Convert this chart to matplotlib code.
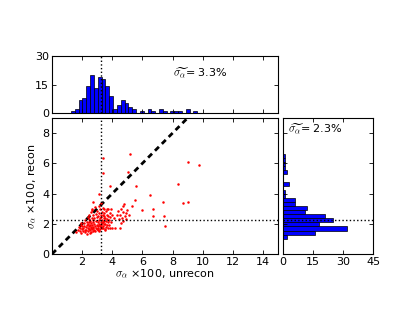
# Scatter of sigma_alpha, recon vs unrecon, with marginal histograms
import matplotlib
matplotlib.use('Agg')
import matplotlib.pyplot as plt

plt.rcParams['mathtext.fontset'] = 'cm'
plt.rcParams['font.size'] = 8

# scatter points (sigma_alpha x100)
unrecon = [1.62, 1.70, 1.78,
           1.85, 1.88, 1.92, 1.95, 1.98, 2.00, 1.90,
           2.05, 2.08, 2.12, 2.15, 2.18, 2.20, 2.22, 2.24,
           2.28, 2.30, 2.32, 2.34, 2.36, 2.38, 2.40, 2.42, 2.44, 2.45, 2.47, 2.48, 2.49, 2.46,
           2.52, 2.53, 2.55, 2.56, 2.58, 2.60, 2.61, 2.62, 2.64, 2.65, 2.66, 2.68, 2.69, 2.70,
           2.71, 2.72, 2.73, 2.74, 2.75, 2.63,
           2.78, 2.80, 2.82, 2.84, 2.86, 2.88, 2.90, 2.92, 2.94, 2.96, 2.97, 2.98, 3.00,
           3.02, 3.03, 3.05, 3.06, 3.08, 3.09, 3.10, 3.12, 3.13, 3.14, 3.16, 3.17, 3.18, 3.19,
           3.20, 3.22, 3.23, 3.24, 3.25,
           3.27, 3.28, 3.30, 3.31, 3.33, 3.34, 3.36, 3.37, 3.39, 3.40, 3.41, 3.43, 3.44, 3.46,
           3.47, 3.48, 3.49, 3.42,
           3.52, 3.54, 3.56, 3.58, 3.60, 3.62, 3.64, 3.66, 3.68, 3.70, 3.72, 3.73, 3.74, 3.55,
           3.78, 3.80, 3.83, 3.86, 3.88, 3.90, 3.93, 3.96, 3.98,
           4.10, 4.20, 4.30, 4.38, 4.42, 4.48,
           4.52, 4.55, 4.60, 4.64, 4.68, 4.72, 4.74,
           4.80, 4.82, 4.88, 4.92, 4.96,
           5.07, 5.18, 5.10, 5.30, 5.48, 5.59, 5.98, 6.50, 6.70, 6.73,
           7.34, 7.41, 7.52, 8.36, 8.70, 9.05, 9.05, 9.73,
           3.36, 3.36, 3.86, 3.09]
recon = [1.48, 1.62, 1.80,
         1.55, 1.72, 1.40, 1.95, 1.65, 1.82, 2.05,
         1.52, 1.70, 1.88, 2.02, 1.60, 2.25, 1.45, 1.78,
         1.62, 1.90, 2.10, 1.35, 2.45, 1.75, 2.00, 1.55, 2.30, 1.68, 1.85, 2.60, 1.42, 2.15,
         1.58, 1.95, 2.20, 1.72, 2.75, 1.48, 2.05, 1.80, 2.40, 1.65, 3.00, 1.90, 2.25, 1.55,
         2.55, 1.78, 3.45, 2.10, 1.70, 2.90,
         1.62, 2.00, 2.35, 1.85, 3.10, 1.52, 2.20, 1.75, 2.65, 1.95, 2.45, 1.68, 2.85,
         1.60, 2.10, 1.88, 2.50, 1.72, 3.20, 2.28, 1.55, 2.00, 2.70, 1.82, 2.38, 1.95, 2.95,
         1.65, 2.15, 2.55, 1.78, 3.35,
         1.90, 2.45, 2.05, 1.70, 2.80, 2.25, 1.85, 3.05, 2.60, 2.10, 1.75, 2.35, 2.95, 1.98,
         2.50, 2.20, 1.68, 2.72,
         2.00, 2.40, 1.80, 2.85, 2.20, 2.60, 1.92, 3.00, 2.30, 1.70, 2.50, 2.12, 2.95, 1.62,
         2.25, 1.95, 2.70, 2.45, 1.72, 2.95, 2.15, 2.60, 1.70,
         2.40, 1.75, 2.55, 2.85, 2.30, 1.72,
         2.60, 2.05, 2.95, 2.40, 2.75, 2.20, 3.15,
         3.32, 2.50, 2.72, 2.30, 2.90,
         5.43, 6.61, 2.55, 3.16, 3.56, 4.50, 2.90, 3.88, 2.98, 2.49,
         3.45, 2.54, 1.85, 4.61, 3.36, 6.10, 3.45, 5.88,
         6.33, 5.35, 4.50, 4.00]

# histogram of unrecon (top) and recon (right)
top_counts = [1, 2, 7, 8, 14, 20, 13, 19, 18, 14, 9, 2, 4, 7, 5, 3, 2, 0, 1, 0, 2, 1, 0,
              2, 1, 0, 1, 1, 1, 0, 2, 0, 1]
top_start, top_width = 1.26, 0.254
right_counts = [2, 16, 32, 18, 25, 21, 11, 12, 6, 6, 1, 1, 0, 3, 0, 0, 2, 1, 1, 1, 1]
right_start, right_width = 1.02, 0.267

med_unrecon = 3.22
med_recon = 2.27


def style_ax(ax):
    ax.tick_params(direction='in', top=True, right=True, length=3, width=0.6, pad=2)
    for s in ax.spines.values():
        s.set_linewidth(0.8)


fig = plt.figure(figsize=(4.15, 3.13), dpi=100)

ax = fig.add_axes([0.1253, 0.1885, 0.5446, 0.4345])
ax_top = fig.add_axes([0.1253, 0.639, 0.5446, 0.182])
ax_right = fig.add_axes([0.681, 0.1885, 0.218, 0.4345])

# main scatter
ax.plot([0, 9], [0, 9], 'k--', lw=2, dashes=(2, 1.5))
ax.plot(unrecon, recon, 'o', color='red', ms=1.8, mec='none')
ax.axvline(med_unrecon, color='k', ls=':', lw=1)
ax.axhline(med_recon, color='k', ls=':', lw=1)
ax.set_xlim(0, 15)
ax.set_ylim(0, 9)
ax.set_xticks([2, 4, 6, 8, 10, 12, 14])
ax.set_yticks([0, 2, 4, 6, 8])
ax.set_xlabel(r'$\sigma_\alpha$ ×100, unrecon', labelpad=1)
ax.set_ylabel(r'$\sigma_\alpha$ ×100, recon', labelpad=2)
style_ax(ax)

# top histogram
lefts = [top_start + i * top_width for i in range(len(top_counts))]
ax_top.bar(lefts, top_counts, width=top_width, align='edge', color='blue',
           edgecolor='k', lw=0.5)
ax_top.axvline(med_unrecon, color='k', ls=':', lw=1)
ax_top.set_xlim(0, 15)
ax_top.set_ylim(0, 30)
ax_top.set_yticks([0, 15, 30])
ax_top.set_xticks([2, 4, 6, 8, 10, 12, 14])
ax_top.set_xticklabels([])
ax_top.text(8.0, 21, r'$\widetilde{\sigma_\alpha}$= 3.3%', va='center', fontsize=8)
style_ax(ax_top)

# right histogram
bottoms = [right_start + i * right_width for i in range(len(right_counts))]
ax_right.barh(bottoms, right_counts, height=right_width, align='edge', color='blue',
              edgecolor='k', lw=0.5)
ax_right.axhline(med_recon, color='k', ls=':', lw=1)
ax_right.set_xlim(0, 45)
ax_right.set_ylim(0, 9)
ax_right.set_xticks([0, 15, 30, 45])
ax_right.set_yticks([0, 2, 4, 6, 8])
ax_right.set_yticklabels([])
ax_right.text(0.06, 0.92, r'$\widetilde{\sigma_\alpha}$= 2.3%', transform=ax_right.transAxes,
              va='center', fontsize=8)
style_ax(ax_right)

plt.savefig('out.png', dpi=100)
